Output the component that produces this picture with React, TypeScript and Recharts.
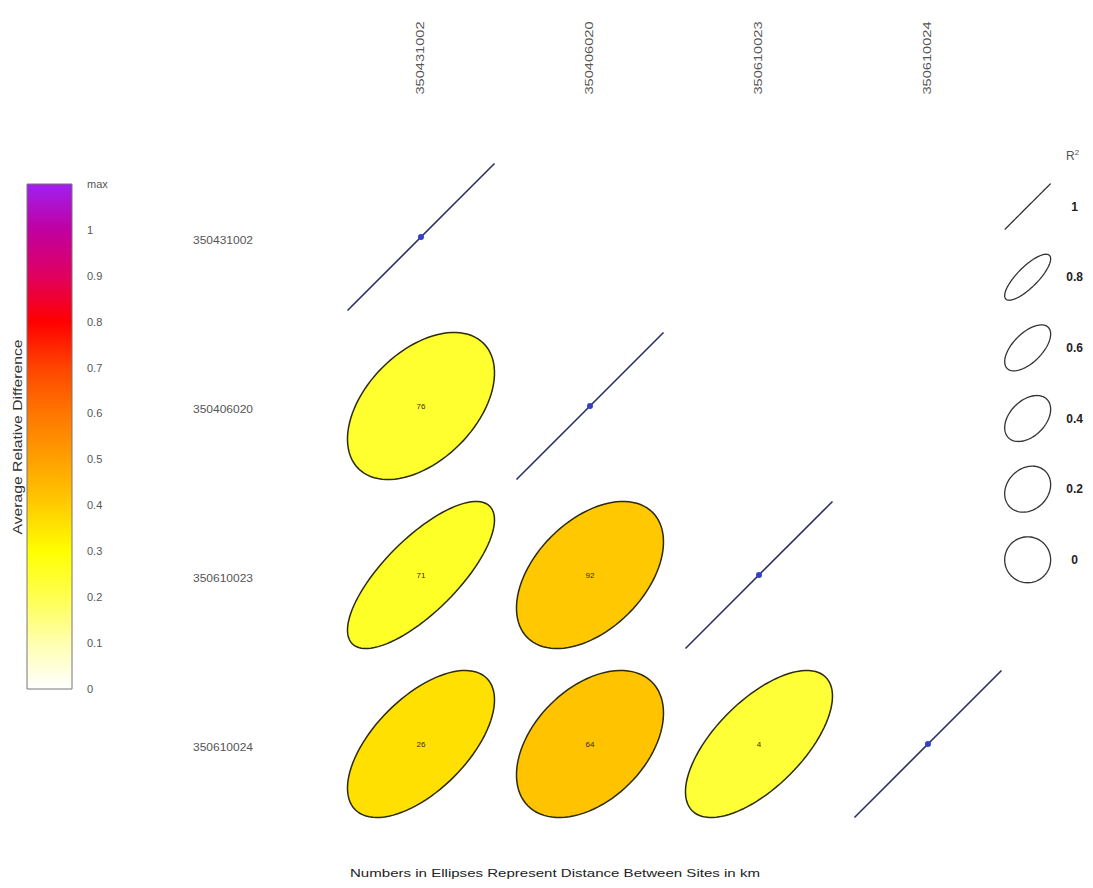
import React from 'react'
import {
  ScatterChart, Scatter, XAxis, YAxis, ReferenceArea, ReferenceLine,
  BarChart, Bar,
} from 'recharts'

const SITES = ['350431002', '350406020', '350610023', '350610024']

// lower-triangle site pairs (1-based row / col into SITES)
const PAIR_ROW = [2, 3, 3, 4, 4, 4]
const PAIR_COL = [1, 1, 2, 1, 2, 3]
const PAIR_R2 = [0.45, 0.75, 0.45, 0.6, 0.42, 0.65]
const PAIR_DIFF = [0.24, 0.25, 0.41, 0.36, 0.42, 0.23]
const PAIR_KM = [76, 71, 92, 26, 64, 4]

const LEGEND_R2 = [1, 0.8, 0.6, 0.4, 0.2, 0]
const LEGEND_LABELS = ['1', '0.8', '0.6', '0.4', '0.2', '0']

const COLOR_TICKS = [0, 0.1, 0.2, 0.3, 0.4, 0.5, 0.6, 0.7, 0.8, 0.9, 1]
const COLOR_MAX = 1.1
const COLOR_STOPS = [0, 0.1, 0.2, 0.3, 0.4, 0.5, 0.6, 0.7, 0.8, 0.9, 1, 1.1]
const COLOR_HEX = ['#ffffff', '#ffffb0', '#ffff50', '#ffff00', '#ffcc00', '#ffa000',
  '#ff7700', '#ff4400', '#ff0000', '#e00060', '#c000a0', '#a020f0']

const FONT = '"Liberation Sans", Arial, sans-serif'
const HALF = 0.435 // ellipse half-size in cell units
const LEG_HALF = 0.136

function hex(h: string) {
  return [1, 3, 5].map(i => parseInt(h.slice(i, i + 2), 16))
}

function diffColor(v: number) {
  for (let i = 1; i < COLOR_STOPS.length; i++) {
    if (v <= COLOR_STOPS[i]) {
      const f = (v - COLOR_STOPS[i - 1]) / (COLOR_STOPS[i] - COLOR_STOPS[i - 1])
      const a = hex(COLOR_HEX[i - 1]), b = hex(COLOR_HEX[i])
      return `rgb(${a.map((c, k) => Math.round(c + (b[k] - c) * f)).join(',')})`
    }
  }
  return COLOR_HEX[COLOR_HEX.length - 1]
}

// ellipse inscribed in the box, shaped by r (0 = circle, 1 = line)
function ellipsePath(x: number, y: number, w: number, h: number, r: number) {
  const d = Math.acos(Math.max(-1, Math.min(1, r)))
  const cx = x + w / 2, cy = y + h / 2
  const pts: string[] = []
  for (let i = 0; i <= 96; i++) {
    const t = (i / 96) * 2 * Math.PI
    pts.push(`${(cx + (w / 2) * Math.cos(t + d / 2)).toFixed(2)},${(cy - (h / 2) * Math.cos(t - d / 2)).toFixed(2)}`)
  }
  return 'M' + pts.join('L') + 'Z'
}

function ColTick({ x, y, payload }: any) {
  return (
    <text transform={`translate(${x},${y - 58}) rotate(-90)`} textAnchor="start"
      dominantBaseline="central" fontSize={10} fill="#555" fontFamily={FONT}
      textLength={73} lengthAdjust="spacingAndGlyphs">
      {SITES[payload.value - 1]}
    </text>
  )
}

function RowTick({ x, y, payload }: any) {
  return (
    <text x={x - 113.5} y={y + 3} textAnchor="middle" dominantBaseline="central"
      fontSize={10} fill="#555" fontFamily={FONT}
      textLength={60} lengthAdjust="spacingAndGlyphs">
      {SITES[payload.value - 1]}
    </text>
  )
}

function CorrMatrix() {
  const diag = SITES.map((_, i) => ({ x: i + 1, y: i + 1 }))
  return (
    <ScatterChart width={1093} height={888}
      margin={{ top: 12.5, right: 4.5, left: 216.5, bottom: 59.5 }}>
      <XAxis orientation="top" type="number" dataKey="x" domain={[0.5, 4.95]}
        ticks={[1, 2, 3, 4]} interval={0} height={140} axisLine={false} tickLine={false}
        tickSize={0} tickMargin={0} tick={<ColTick />} />
      <YAxis type="number" dataKey="y" domain={[0.5, 4.5]} reversed
        ticks={[1, 2, 3, 4]} interval={0} width={120} axisLine={false} tickLine={false}
        tickSize={0} tickMargin={0} tick={<RowTick />} />
      {PAIR_ROW.map((row, i) => (
        <ReferenceArea key={`p${i}`} x1={PAIR_COL[i] - HALF} x2={PAIR_COL[i] + HALF}
          y1={row - HALF} y2={row + HALF}
          shape={(p: any) => (
            <g>
              <path d={ellipsePath(p.x, p.y, p.width, p.height, PAIR_R2[i])}
                fill={diffColor(PAIR_DIFF[i])} stroke="#2b2b10" strokeWidth={1.5} />
              <text x={p.x + p.width / 2} y={p.y + p.height / 2} textAnchor="middle"
                dominantBaseline="central" fontSize={8} fill="#3a2a00" fontFamily={FONT}>
                {PAIR_KM[i]}
              </text>
            </g>
          )} />
      ))}
      {SITES.map((_, i) => (
        <ReferenceLine key={`d${i}`} stroke="#2a3060" strokeWidth={1.6}
          segment={[{ x: i + 1 - HALF, y: i + 1 + HALF }, { x: i + 1 + HALF, y: i + 1 - HALF }]} />
      ))}
      {LEGEND_R2.map((r2, i) => (
        <ReferenceArea key={`l${i}`} x1={4.59 - LEG_HALF} x2={4.59 + LEG_HALF}
          y1={0.82 + i * 0.418 - LEG_HALF} y2={0.82 + i * 0.418 + LEG_HALF}
          shape={(p: any) => (
            <g>
              <path d={ellipsePath(p.x, p.y, p.width, p.height, r2)}
                fill="none" stroke="#333" strokeWidth={1.3} />
              <text x={p.x + p.width / 2 + 47} y={p.y + p.height / 2} textAnchor="middle"
                dominantBaseline="central" fontSize={12} fontWeight="bold" fill="#222"
                fontFamily={FONT}>
                {LEGEND_LABELS[i]}
              </text>
            </g>
          )} />
      ))}
      <Scatter data={diag} isAnimationActive={false}
        shape={(p: any) => <circle cx={p.cx} cy={p.cy} r={3} fill="#3340c8" />} />
    </ScatterChart>
  )
}

function ColorBar() {
  return (
    <BarChart width={125} height={888} data={[{ name: 'scale', v: COLOR_MAX }]}
      margin={{ top: 184, right: 3, left: 27, bottom: 199 }} barCategoryGap={0}>
      <defs>
        <linearGradient id="cbar" x1="0" y1="1" x2="0" y2="0">
          {COLOR_STOPS.map((s, i) => (
            <stop key={i} offset={`${(s / COLOR_MAX) * 100}%`} stopColor={COLOR_HEX[i]} />
          ))}
        </linearGradient>
      </defs>
      <XAxis dataKey="name" hide />
      <YAxis orientation="right" type="number" domain={[0, COLOR_MAX]}
        ticks={[...COLOR_TICKS, COLOR_MAX]} interval={0} width={50}
        axisLine={false} tickLine={false} tickSize={0} tickMargin={15}
        tick={{ fontSize: 11, fill: '#555', fontFamily: FONT }}
        tickFormatter={(v: number) => (v === COLOR_MAX ? 'max' : String(v))} />
      <Bar dataKey="v" fill="url(#cbar)" stroke="#777" strokeWidth={1} isAnimationActive={false} />
    </BarChart>
  )
}

export default function App() {
  return (
    <div style={{ position: 'absolute', left: 0, top: 0, width: 1093, height: 888, background: '#fff' }}>
      <div style={{ position: 'absolute', left: 0, top: 0 }}>
        <CorrMatrix />
      </div>
      <div style={{ position: 'absolute', left: 0, top: 0 }}>
        <ColorBar />
      </div>
      <svg width={1093} height={888} style={{ position: 'absolute', left: 0, top: 0, pointerEvents: 'none' }}>
        <text transform="translate(18,437) rotate(-90)" textAnchor="middle" dominantBaseline="central"
          fontSize={12} fill="#333" fontFamily={FONT} textLength={195} lengthAdjust="spacingAndGlyphs">
          Average Relative Difference
        </text>
        <text x={555} y={873} textAnchor="middle" dominantBaseline="central"
          fontSize={11} fill="#222" fontFamily={FONT} textLength={410} lengthAdjust="spacingAndGlyphs">
          Numbers in Ellipses Represent Distance Between Sites in km
        </text>
        <text x={1066} y={160} fontSize={12} fill="#555" fontFamily={FONT}>
          R<tspan dy={-5} fontSize={8}>2</tspan>
        </text>
      </svg>
    </div>
  )
}
